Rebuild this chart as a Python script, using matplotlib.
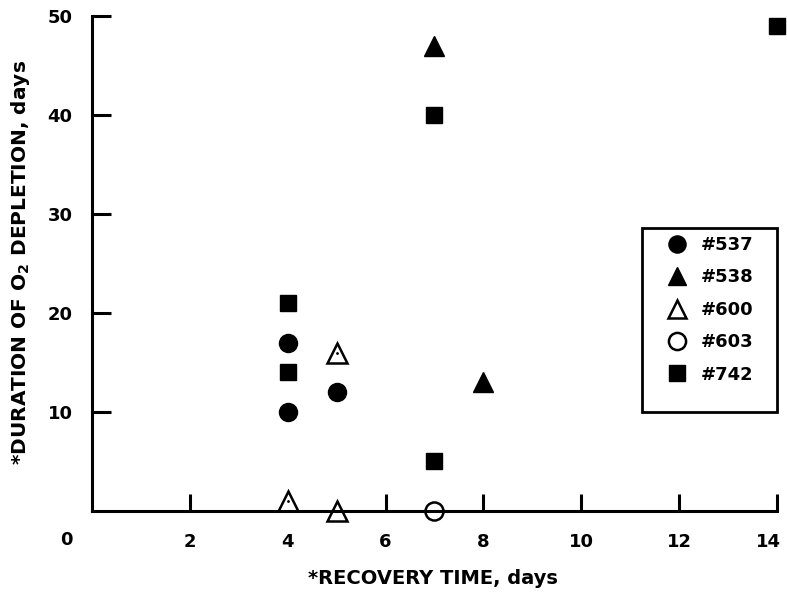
import matplotlib
matplotlib.use("Agg")
import matplotlib.pyplot as plt
from matplotlib.patches import Rectangle
from matplotlib.transforms import ScaledTranslation

plt.rcParams['font.family'] = ['DejaVu Sans']
plt.rcParams['font.weight'] = 'bold'
plt.rcParams['mathtext.default'] = 'bf'

# Data (recovery time, duration of O2 depletion)
x_537 = [4, 4, 5]
y_537 = [17, 10, 12]
x_538 = [7, 8]
y_538 = [47, 13]
x_600 = [4, 5, 5]
y_600 = [1, 0, 16]
x_603 = [7]
y_603 = [0]
x_742 = [4, 4, 7, 7, 14]
y_742 = [21, 14, 40, 5, 49]

x_ticks = [2, 4, 6, 8, 10, 12, 14]
y_ticks = [10, 20, 30, 40, 50]

fig = plt.figure(figsize=(7.87, 5.94), dpi=100)
ax = fig.add_axes([0.117, 0.140, 0.870, 0.833])

ax.plot(x_537, y_537, 'o', color='black', markersize=13, linestyle='none',
        clip_on=False, label='#537')
ax.plot(x_538, y_538, '^', color='black', markersize=14, linestyle='none',
        clip_on=False, label='#538')
ax.plot(x_600, y_600, '^', markerfacecolor='white', markeredgecolor='black',
        markeredgewidth=1.8, markersize=14, linestyle='none', clip_on=False,
        label='#600')
ax.plot(x_603, y_603, 'o', markerfacecolor='white', markeredgecolor='black',
        markeredgewidth=1.8, markersize=13, linestyle='none', clip_on=False,
        label='#603')
ax.plot(x_742, y_742, 's', color='black', markersize=12, linestyle='none',
        clip_on=False, label='#742')
# small centre dots in the open symbols
ax.plot(x_600 + x_603, y_600 + y_603, '.', color='black', markersize=2,
        linestyle='none', clip_on=False)

ax.set_xlim(0, 14)
ax.set_ylim(0, 50)
ax.set_xticks(x_ticks)
ax.set_yticks(y_ticks)
ax.tick_params(axis='both', direction='in', width=2.2, labelsize=13)
ax.tick_params(axis='x', length=12, pad=16)
ax.tick_params(axis='y', length=14, pad=14)
for s in ['top', 'right']:
    ax.spines[s].set_visible(False)
for s in ['left', 'bottom']:
    ax.spines[s].set_linewidth(2.2)

# nudge the last x label so it stays inside the figure
last = ax.get_xticklabels()[-1]
last.set_transform(last.get_transform() +
                   ScaledTranslation(-6 / 72, 0, fig.dpi_scale_trans))

fig.text(66 / 787, 1 - 540 / 594, '0', fontsize=13, fontweight='bold',
         ha='center', va='center')
fig.text(433 / 787, 1 - 578 / 594, '*RECOVERY TIME, days', fontsize=14,
         fontweight='bold', ha='center', va='center')
fig.text(21 / 787, 1 - 262 / 594, '*DURATION OF O$_2$ DEPLETION, days',
         fontsize=14.5, fontweight='bold', ha='center', va='center',
         rotation=90)

# legend box drawn separately (frame is taller than the entries)
ax.add_patch(Rectangle((0.803, 0.200), 0.197, 0.372, transform=ax.transAxes,
                       fill=False, edgecolor='black', linewidth=2,
                       clip_on=False))
leg = ax.legend(loc='upper left', bbox_to_anchor=(0.826, 0.572),
                borderaxespad=0, fontsize=13, frameon=False,
                handletextpad=0.75, labelspacing=0.8, borderpad=0.45,
                handlelength=1.2, markerscale=0.95)

fig.savefig('out.png', dpi=100)
